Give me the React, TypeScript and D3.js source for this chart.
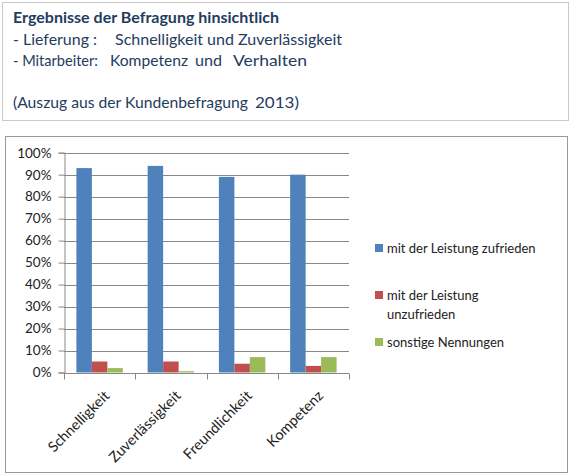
import { useEffect, useRef } from 'react';
import * as d3 from 'd3';

const CATEGORIES = ['Schnelligkeit', 'Zuverlässigkeit', 'Freundlichkeit', 'Kompetenz'];
const SERIES = ['mit der Leistung zufrieden', 'mit der Leistung unzufrieden', 'sonstige Nennungen'];
const ZUFRIEDEN = [0.93, 0.94, 0.89, 0.90];
const UNZUFRIEDEN = [0.05, 0.05, 0.04, 0.03];
const SONSTIGE = [0.02, 0.006, 0.07, 0.07];
const Y_TICKS = [0, 0.1, 0.2, 0.3, 0.4, 0.5, 0.6, 0.7, 0.8, 0.9, 1.0];
const COLORS = ['#4f81bd', '#c0504d', '#9bbb59'];

const FONT = 'Lato, "Open Sans", sans-serif';
const TEXT_COLOR = '#243c5e';

export default function App() {
  const svgRef = useRef<SVGSVGElement>(null);

  useEffect(() => {
    if (!svgRef.current) return;
    const svg = d3.select(svgRef.current);
    svg.selectAll('*').remove();

    // header box
    svg.append('rect')
      .attr('x', 2.5).attr('y', 2.5).attr('width', 566).attr('height', 118)
      .attr('fill', '#fff').attr('stroke', '#c8c8c8');

    const header = svg.append('g').attr('font-family', FONT).attr('fill', TEXT_COLOR).attr('font-size', 15);
    const seg = (x: number, y: number, text: string, len: number, bold = false) => {
      header.append('text')
        .attr('x', x).attr('y', y)
        .attr('font-weight', bold ? 700 : 400)
        .attr('textLength', len).attr('lengthAdjust', 'spacingAndGlyphs')
        .text(text);
    };
    seg(13, 23, 'Ergebnisse der Befragung hinsichtlich', 266, true);
    seg(13, 45, '- Lieferung :', 84);
    seg(115, 45, 'Schnelligkeit und Zuverlässigkeit', 227);
    seg(13, 66, '- Mitarbeiter:', 85);
    seg(110, 66, 'Kompetenz', 78);
    seg(195, 66, 'und', 27);
    seg(233, 66, 'Verhalten', 74);
    seg(13, 108, '(Auszug aus der Kundenbefragung', 235);
    seg(255, 108, '2013)', 44);

    // chart box
    svg.append('rect')
      .attr('x', 5.5).attr('y', 136.5).attr('width', 562).attr('height', 336)
      .attr('fill', '#fff').attr('stroke', '#9a9a9a');

    const x0 = d3.scaleBand<string>().domain(CATEGORIES).range([64, 349]);
    const x1 = d3.scaleBand<string>().domain(SERIES).range([0, x0.bandwidth()]).paddingOuter(0.8);
    const y = d3.scaleLinear().domain([0, 1]).range([372.5, 152.7]);

    const g = svg.append('g').attr('font-family', FONT);

    // gridlines
    g.selectAll('line.grid').data(Y_TICKS.slice(1)).join('line')
      .attr('class', 'grid')
      .attr('x1', 64).attr('x2', 349)
      .attr('y1', d => Math.round(y(d)) + 0.5).attr('y2', d => Math.round(y(d)) + 0.5)
      .attr('stroke', '#888').attr('stroke-width', 1);

    // y axis
    const yAxis = g.append('g').attr('transform', 'translate(64.5,0)')
      .call(d3.axisLeft(y).tickValues(Y_TICKS).tickSize(6).tickPadding(7).tickFormat(d3.format('.0%')));
    yAxis.select('.domain').attr('stroke', '#888');
    yAxis.selectAll('.tick line').attr('stroke', '#888');
    yAxis.selectAll('.tick text').attr('font-size', 13.5).attr('font-family', FONT).attr('fill', '#222');

    const values = [ZUFRIEDEN, UNZUFRIEDEN, SONSTIGE];
    const cells = CATEGORIES.flatMap((c, ci) =>
      SERIES.map((s, si) => ({ c, s, si, v: values[si][ci] })));

    g.selectAll('rect.bar').data(cells).join('rect')
      .attr('class', 'bar')
      .attr('x', d => (x0(d.c) ?? 0) + (x1(d.s) ?? 0))
      .attr('width', x1.bandwidth())
      .attr('y', d => y(d.v))
      .attr('height', d => y(0) - y(d.v))
      .attr('fill', d => COLORS[d.si]);

    // x axis
    const xAxisY = Math.round(y(0)) + 0.5;
    g.append('line')
      .attr('x1', 64).attr('x2', 349).attr('y1', xAxisY).attr('y2', xAxisY)
      .attr('stroke', '#888');
    const bounds = [...CATEGORIES.map(c => x0(c) ?? 0), x0.range()[1]];
    g.selectAll('line.xtick').data(bounds).join('line')
      .attr('class', 'xtick')
      .attr('x1', d => Math.round(d) + 0.5).attr('x2', d => Math.round(d) + 0.5)
      .attr('y1', xAxisY).attr('y2', xAxisY + 6)
      .attr('stroke', '#888');

    g.selectAll('text.cat').data(CATEGORIES).join('text')
      .attr('class', 'cat')
      .attr('transform', d => `translate(${(x0(d) ?? 0) + x0.bandwidth() / 2 + 3},389) rotate(-45)`)
      .attr('text-anchor', 'end')
      .attr('dy', '0.75em')
      .attr('font-size', 14.5)
      .attr('fill', '#222')
      .text(d => d);

    // legend
    const legendRows = [
      { lines: ['mit der Leistung zufrieden'], y: 248 },
      { lines: ['mit der Leistung', 'unzufrieden'], y: 295 },
      { lines: ['sonstige Nennungen'], y: 342 },
    ];
    const leg = g.selectAll('g.leg').data(legendRows).join('g')
      .attr('class', 'leg')
      .attr('transform', d => `translate(375,${d.y})`);
    leg.append('rect')
      .attr('x', 0).attr('y', -4).attr('width', 8).attr('height', 8)
      .attr('fill', (_, i) => COLORS[i]);
    leg.each(function (d) {
      const t = d3.select(this).append('text')
        .attr('x', 12).attr('y', 4.5).attr('font-size', 13).attr('fill', '#222');
      d.lines.forEach((line, li) => {
        t.append('tspan').attr('x', 12).attr('dy', li === 0 ? 0 : 19).text(line);
      });
    });
  }, []);

  return (
    <svg ref={svgRef} width={572} height={475}
      style={{ position: 'absolute', left: 0, top: 0, background: '#fff' }} />
  );
}
